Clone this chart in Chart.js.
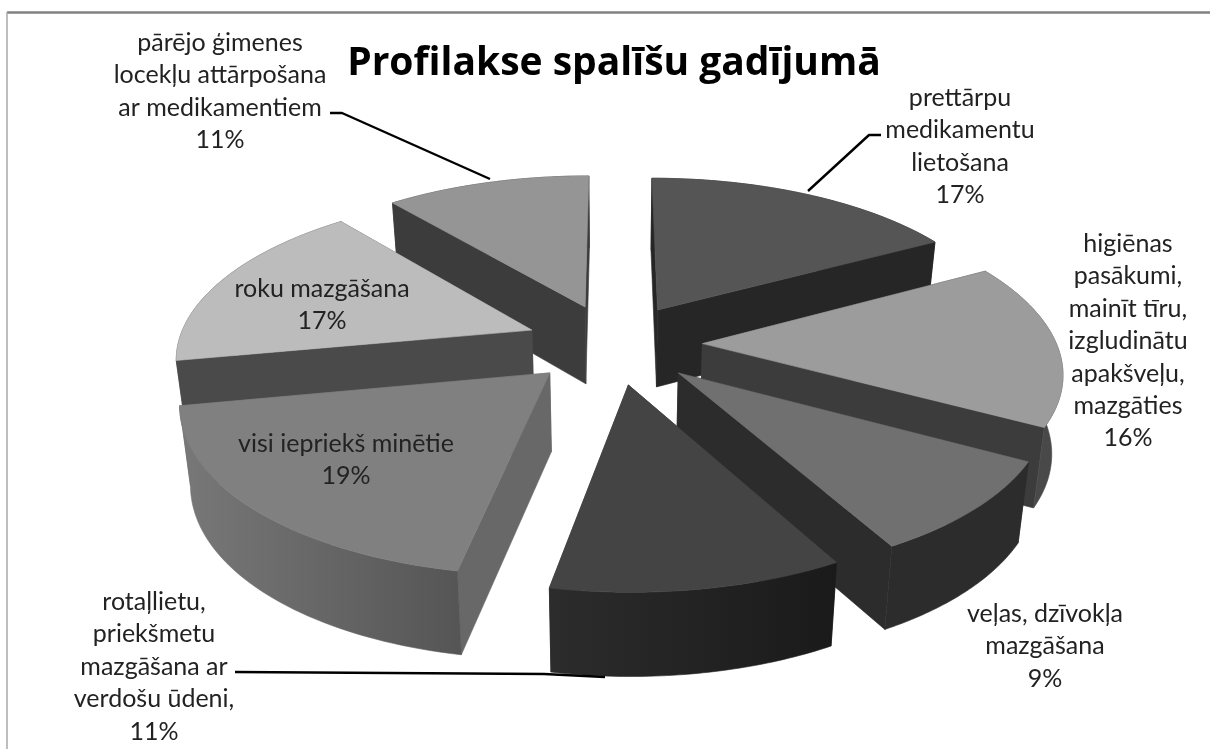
<!DOCTYPE html>
<html><head><meta charset="utf-8">
<style>html,body{margin:0;padding:0;background:#fff}#w{width:1210px;height:749px;position:relative}canvas{display:block;filter:blur(0.45px)}</style>
<script src="https://cdn.jsdelivr.net/npm/chart.js@4/dist/chart.umd.min.js"></script>
</head><body><div id="w"><canvas id="c" width="1210" height="749"></canvas></div>
<script>
const titleText = 'Profilakse spalīšu gadījumā';
const categories = ['prettārpu medikamentu lietošana','higiēnas pasākumi, mainīt tīru, izgludinātu apakšveļu, mazgāties','veļas, dzīvokļa mazgāšana','rotaļlietu, priekšmetu mazgāšana ar verdošu ūdeni,','visi iepriekš minētie','roku mazgāšana','pārējo ģimenes locekļu attārpošana ar medikamentiem'];
const shares = [17,16,9,11,19,17,11];
const labelLines = [
  ['prettārpu','medikamentu','lietošana'],
  ['higiēnas','pasākumi,','mainīt tīru,','izgludinātu','apakšveļu,','mazgāties'],
  ['veļas, dzīvokļa','mazgāšana'],
  ['rotaļlietu,','priekšmetu','mazgāšana ar','verdošu ūdeni,'],
  ['visi iepriekš minētie'],
  ['roku mazgāšana'],
  ['pārējo ģimenes','locekļu attārpošana','ar medikamentiem']
];
const topColors  = ['#555555','#9c9c9c','#707070','#444444','#808080','#bcbcbc','#959595'];
const wallColors = ['#262626','#3c3c3c','#2c2c2c','#2a2a2a','#686868','#4a4a4a','#3c3c3c'];
const rimColors  = [['#262626','#262626'],['#4c4c4c','#484848'],['#2c2c2c','#2c2c2c'],['#2c2c2c','#1a1a1a'],['#787878','#555555'],['#4a4a4a','#4a4a4a'],['#3c3c3c','#3c3c3c']];
const labelAnchors = [[960,98],[1128,244],[1045,614],[154,602],[346,444],[322,289],[220,43]];
const leaders = [[[881,135],[869,135],[808,191]],[[235,672],[544,674],[605,677]],[[330,113],[342,113],[490,179]]];

const view = {scale:354, tilt:0.456, persp:0.153, depth:78, depthV:5, shrink:0.975};

function project(arc, a, rho, z){
  const off = arc.options.offset/arc.outerRadius, mid=(arc.startAngle+arc.endAngle)/2;
  const U = rho*Math.cos(a)+off*Math.cos(mid), V = rho*Math.sin(a)+off*Math.sin(mid);
  const den = 1-view.persp*V;
  let x = view.scale*U/den, y = view.scale*view.tilt*V/den;
  if(z){ x*=view.shrink; y+=view.depth+view.depthV*V; }
  return [arc.x+x, arc.y+y];
}
function poly(ctx, pts, fill){
  ctx.beginPath(); pts.forEach((p,i)=>i?ctx.lineTo(p[0],p[1]):ctx.moveTo(p[0],p[1])); ctx.closePath();
  ctx.fillStyle=fill; ctx.fill(); ctx.strokeStyle=fill; ctx.lineWidth=0.6; ctx.stroke();
}
const pie3d = {
  id:'pie3d',
  beforeDraw(chart){
    const ctx=chart.ctx; ctx.save();
    ctx.fillStyle='#fff'; ctx.fillRect(0,0,1210,749);
    ctx.strokeStyle='#808080'; ctx.lineWidth=2.5; ctx.beginPath(); ctx.moveTo(1210,12.5); ctx.lineTo(7,12.5); ctx.stroke();
    ctx.strokeStyle='#a8a8a8'; ctx.lineWidth=1.5; ctx.beginPath(); ctx.moveTo(7,12); ctx.lineTo(7,749); ctx.stroke();
    ctx.restore();
  },
  beforeDatasetsDraw(chart){
    const ctx=chart.ctx, meta=chart.getDatasetMeta(0);
    const order=meta.data.map((arc,i)=>({arc,i,v:Math.sin((arc.startAngle+arc.endAngle)/2)})).sort((p,q)=>p.v-q.v);
    order.forEach(({arc,i})=>{
      const s=arc.startAngle,e=arc.endAngle,N=48;
      const tipT=project(arc,0,0,0), tipB=project(arc,0,0,1);
      [s,e].forEach(a=>poly(ctx,[tipT,project(arc,a,1,0),project(arc,a,1,1),tipB],wallColors[i]));
      const tops=[],bots=[];
      for(let k=0;k<=N;k++){const a=s+(e-s)*k/N;tops.push(project(arc,a,1,0));bots.push(project(arc,a,1,1));}
      const xs=tops.concat(bots).map(p=>p[0]);
      const g=ctx.createLinearGradient(Math.min(...xs),0,Math.max(...xs),0);
      g.addColorStop(0,rimColors[i][0]);g.addColorStop(1,rimColors[i][1]);
      poly(ctx,tops.concat(bots.slice().reverse()),g);
      poly(ctx,[tipT].concat(tops),arc.options.backgroundColor);
    });
    return false;
  },
  afterDraw(chart){
    const ctx=chart.ctx; ctx.save();
    ctx.strokeStyle='#000'; ctx.lineWidth=2.4; ctx.lineJoin='round';
    leaders.forEach(l=>{ctx.beginPath();l.forEach((p,i)=>i?ctx.lineTo(p[0],p[1]):ctx.moveTo(p[0],p[1]));ctx.stroke();});
    ctx.fillStyle='#222'; ctx.font='25px Lato'; ctx.textAlign='center'; ctx.textBaseline='middle';
    labelLines.forEach((lines,i)=>{
      lines.concat([shares[i]+'%']).forEach((t,j)=>ctx.fillText(t,labelAnchors[i][0],labelAnchors[i][1]+j*32.4));
    });
    ctx.restore();
  }
};
new Chart(document.getElementById('c'),{
  type:'pie',
  data:{labels:categories,datasets:[{data:shares,backgroundColor:topColors,borderWidth:0,offset:57}]},
  options:{
    responsive:false,animation:false,
    layout:{padding:{left:18,bottom:148.6}},
    plugins:{
      legend:{display:false},tooltip:{enabled:false},
      title:{display:true,text:titleText,color:'#000',font:{family:'Open Sans',size:39,weight:'bold'},padding:{top:40,bottom:0}}
    }
  },
  plugins:[pie3d]
});
</script></body></html>
